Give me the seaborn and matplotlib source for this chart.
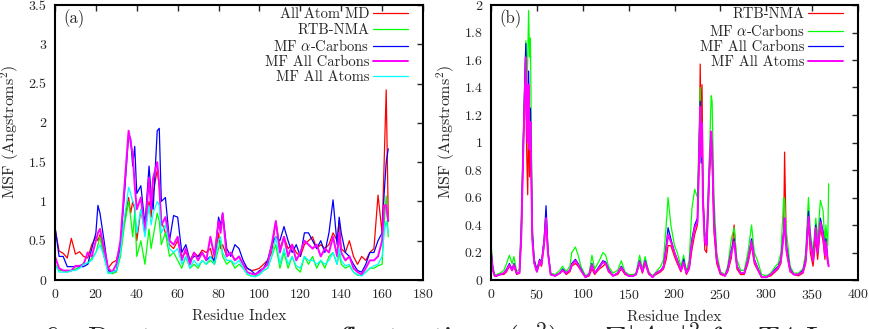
import numpy as np
import pandas as pd
import seaborn as sns
import matplotlib.pyplot as plt

# =========================
# DATA - panel (a)
# =========================
res_a = [0, 2, 4, 6, 8, 10, 12, 14, 16, 18,
         20, 21, 22, 24, 26, 28, 30, 32, 34, 36,
         37, 38, 39, 40, 42, 44, 46, 47, 48, 50,
         51, 52, 54, 56, 58, 60, 62, 64, 66, 68,
         70, 72, 74, 76, 78, 80, 81, 82, 84, 86,
         88, 90, 92, 94, 96, 98, 100, 102, 104, 106,
         108, 110, 112, 114, 116, 118, 120, 122, 124, 126,
         128, 130, 132, 134, 136, 138, 139, 140, 142, 144,
         146, 148, 150, 152, 154, 156, 158, 160, 161, 162,
         163]

md_a = [0.66, 0.37, 0.34, 0.28, 0.53, 0.33, 0.36, 0.3, 0.28, 0.45,
        0.55, 0.5, 0.58, 0.3, 0.15, 0.22, 0.25, 0.45, 0.75, 1.05,
        0.85, 1.0, 0.9, 0.5, 0.9, 0.6, 1.0, 0.8, 1.1, 1.4,
        1.2, 0.75, 0.6, 0.45, 0.4, 0.5, 0.3, 0.35, 0.25, 0.35,
        0.3, 0.38, 0.35, 0.4, 0.2, 0.6, 0.4, 0.45, 0.3, 0.35,
        0.25, 0.3, 0.2, 0.15, 0.12, 0.13, 0.15, 0.2, 0.25, 0.35,
        0.75, 0.4, 0.55, 0.4, 0.45, 0.35, 0.3, 0.45, 0.5, 0.55,
        0.4, 0.45, 0.4, 0.45, 0.6, 0.5, 0.75, 0.4, 0.35, 0.5,
        0.3, 0.2, 0.3, 0.25, 0.35, 0.4, 1.08, 0.6, 1.5, 2.42,
        0.8]

rtb_a = [0.2, 0.12, 0.12, 0.1, 0.12, 0.14, 0.16, 0.22, 0.2, 0.28,
         0.35, 0.45, 0.55, 0.3, 0.1, 0.08, 0.1, 0.3, 0.7, 1.0,
         0.8, 0.55, 0.85, 0.3, 0.5, 0.2, 0.65, 0.4, 0.55, 0.85,
         0.75, 0.45, 0.6, 0.3, 0.35, 0.25, 0.15, 0.3, 0.15, 0.2,
         0.15, 0.25, 0.2, 0.25, 0.2, 0.4, 0.5, 0.3, 0.2, 0.25,
         0.15, 0.2, 0.15, 0.07, 0.05, 0.05, 0.07, 0.12, 0.15, 0.3,
         0.45, 0.15, 0.35, 0.15, 0.3, 0.15, 0.1, 0.3, 0.2, 0.3,
         0.15, 0.25, 0.15, 0.3, 0.35, 0.2, 0.35, 0.2, 0.15, 0.18,
         0.1, 0.06, 0.06, 0.1, 0.15, 0.15, 0.18, 0.2, 0.7, 1.07,
         0.55]

ca_a = [0.68, 0.3, 0.3, 0.17, 0.17, 0.17, 0.17, 0.17, 0.2, 0.4,
        0.6, 0.95, 0.85, 0.5, 0.12, 0.1, 0.12, 0.45, 1.1, 1.85,
        1.8, 1.45, 1.7, 1.1, 1.2, 0.7, 1.45, 1.1, 0.9, 1.9,
        1.93, 1.0, 1.05, 0.5, 0.82, 0.8, 0.35, 0.45, 0.25, 0.3,
        0.3, 0.35, 0.25, 0.3, 0.25, 0.8, 0.7, 0.85, 0.4, 0.3,
        0.45, 0.4, 0.25, 0.15, 0.12, 0.07, 0.12, 0.15, 0.25, 0.45,
        0.55, 0.5, 0.68, 0.5, 0.35, 0.45, 0.3, 0.6, 0.6, 0.5,
        0.4, 0.5, 0.35, 0.6, 1.02, 0.45, 0.8, 0.6, 0.35, 0.3,
        0.2, 0.12, 0.1, 0.2, 0.35, 0.35, 0.5, 0.6, 1.1, 1.5,
        1.67]

ac_a = [0.3, 0.15, 0.12, 0.12, 0.12, 0.18, 0.18, 0.2, 0.35, 0.3,
        0.5, 0.6, 0.65, 0.4, 0.15, 0.1, 0.2, 0.5, 1.2, 1.9,
        1.75, 1.6, 1.2, 0.9, 1.05, 0.6, 1.3, 0.9, 1.3, 1.5,
        1.2, 0.7, 0.8, 0.5, 0.45, 0.55, 0.25, 0.4, 0.2, 0.35,
        0.25, 0.35, 0.25, 0.55, 0.3, 0.75, 0.6, 0.85, 0.3, 0.35,
        0.25, 0.3, 0.2, 0.1, 0.08, 0.07, 0.1, 0.15, 0.2, 0.45,
        0.75, 0.35, 0.55, 0.3, 0.45, 0.25, 0.35, 0.5, 0.45, 0.4,
        0.45, 0.3, 0.4, 0.35, 0.55, 0.3, 0.6, 0.35, 0.25, 0.3,
        0.15, 0.1, 0.07, 0.15, 0.25, 0.25, 0.3, 0.5, 0.95, 0.95,
        0.75]

aa_a = [0.2, 0.1, 0.1, 0.1, 0.12, 0.12, 0.15, 0.2, 0.22, 0.25,
        0.35, 0.4, 0.45, 0.3, 0.08, 0.1, 0.12, 0.35, 0.8, 1.18,
        1.1, 1.0, 0.95, 0.6, 0.9, 0.55, 0.95, 0.7, 0.85, 1.0,
        0.95, 0.6, 0.7, 0.4, 0.35, 0.4, 0.2, 0.3, 0.15, 0.25,
        0.18, 0.25, 0.2, 0.3, 0.2, 0.5, 0.55, 0.35, 0.25, 0.25,
        0.2, 0.25, 0.15, 0.08, 0.05, 0.04, 0.07, 0.12, 0.15, 0.3,
        0.55, 0.2, 0.4, 0.2, 0.3, 0.18, 0.15, 0.3, 0.25, 0.25,
        0.2, 0.25, 0.2, 0.25, 0.35, 0.2, 0.4, 0.25, 0.18, 0.2,
        0.1, 0.07, 0.05, 0.1, 0.15, 0.18, 0.2, 0.3, 0.6, 0.75,
        0.6]

# =========================
# DATA - panel (b)
# =========================
res_b = [0, 2, 4, 6, 10, 14, 17, 20, 23, 25,
         28, 31, 33, 35, 37, 38, 39, 40, 41, 42,
         43, 44, 45, 47, 50, 53, 55, 58, 60, 62,
         65, 70, 75, 78, 82, 86, 88, 92, 95, 98,
         103, 107, 110, 113, 118, 122, 125, 128, 133, 138,
         142, 146, 150, 155, 158, 162, 165, 168, 172, 176,
         180, 185, 188, 191, 193, 196, 200, 203, 207, 210,
         213, 216, 219, 222, 225, 227, 228, 229, 230, 231,
         233, 235, 238, 240, 241, 243, 246, 250, 255, 258,
         262, 265, 268, 272, 276, 280, 284, 287, 290, 295,
         300, 305, 310, 313, 316, 319, 320, 322, 326, 330,
         335, 340, 343, 346, 348, 351, 354, 356, 359, 362,
         364, 365, 367, 368]

rtb_b = [0.2, 0.08, 0.03, 0.03, 0.04, 0.04, 0.06, 0.1, 0.07, 0.1,
         0.04, 0.05, 0.3, 0.9, 1.4, 1.3, 0.9, 0.62, 1.2, 0.75,
         1.0, 0.7, 0.3, 0.12, 0.06, 0.12, 0.1, 0.25, 0.45, 0.2,
         0.04, 0.03, 0.05, 0.07, 0.04, 0.06, 0.1, 0.12, 0.1, 0.07,
         0.02, 0.03, 0.08, 0.04, 0.08, 0.1, 0.12, 0.06, 0.03, 0.04,
         0.08, 0.04, 0.03, 0.03, 0.04, 0.12, 0.05, 0.12, 0.04, 0.03,
         0.04, 0.06, 0.08, 0.15, 0.25, 0.25, 0.17, 0.12, 0.06, 0.12,
         0.04, 0.08, 0.22, 0.33, 0.4, 0.9, 1.57, 1.1, 1.42, 0.7,
         0.22, 0.2, 0.75, 1.0, 0.9, 0.35, 0.12, 0.04, 0.03, 0.06,
         0.16, 0.4, 0.08, 0.04, 0.04, 0.12, 0.25, 0.12, 0.08, 0.02,
         0.02, 0.03, 0.06, 0.08, 0.12, 0.35, 0.93, 0.2, 0.06, 0.04,
         0.03, 0.05, 0.12, 0.42, 0.2, 0.1, 0.3, 0.15, 0.38, 0.28,
         0.15, 0.3, 0.12, 0.13]

ca_b = [0.27, 0.1, 0.04, 0.04, 0.05, 0.07, 0.12, 0.18, 0.12, 0.17,
        0.06, 0.08, 0.45, 1.0, 1.5, 1.74, 1.4, 1.6, 1.96, 1.62,
        1.76, 1.0, 0.4, 0.15, 0.08, 0.15, 0.12, 0.3, 0.5, 0.22,
        0.05, 0.04, 0.07, 0.1, 0.06, 0.1, 0.2, 0.24, 0.18, 0.1,
        0.03, 0.05, 0.18, 0.08, 0.14, 0.2, 0.18, 0.1, 0.05, 0.07,
        0.14, 0.06, 0.04, 0.04, 0.05, 0.18, 0.08, 0.17, 0.06, 0.03,
        0.06, 0.1, 0.15, 0.4, 0.6, 0.4, 0.25, 0.2, 0.1, 0.18,
        0.06, 0.15, 0.52, 0.66, 0.6, 1.1, 1.4, 1.0, 1.1, 0.55,
        0.35, 0.3, 0.9, 1.34, 1.3, 0.6, 0.2, 0.06, 0.04, 0.1,
        0.3, 0.38, 0.15, 0.07, 0.07, 0.2, 0.4, 0.2, 0.15, 0.04,
        0.03, 0.05, 0.1, 0.12, 0.2, 0.6, 0.58, 0.35, 0.1, 0.05,
        0.05, 0.08, 0.2, 0.6, 0.35, 0.2, 0.45, 0.3, 0.58, 0.5,
        0.25, 0.4, 0.25, 0.7]

ac_b = [0.22, 0.08, 0.03, 0.03, 0.04, 0.05, 0.08, 0.12, 0.08, 0.12,
        0.05, 0.05, 0.35, 0.95, 1.5, 1.72, 1.3, 1.1, 1.52, 1.0,
        1.25, 0.8, 0.35, 0.15, 0.07, 0.15, 0.12, 0.3, 0.54, 0.22,
        0.04, 0.03, 0.05, 0.08, 0.05, 0.07, 0.12, 0.15, 0.12, 0.08,
        0.02, 0.04, 0.12, 0.05, 0.1, 0.14, 0.13, 0.08, 0.03, 0.05,
        0.1, 0.05, 0.03, 0.03, 0.04, 0.14, 0.06, 0.14, 0.05, 0.02,
        0.05, 0.07, 0.1, 0.25, 0.38, 0.3, 0.2, 0.15, 0.07, 0.15,
        0.05, 0.1, 0.3, 0.4, 0.45, 1.0, 1.3, 0.85, 1.1, 0.6,
        0.3, 0.25, 0.8, 1.05, 0.95, 0.45, 0.15, 0.05, 0.03, 0.08,
        0.22, 0.3, 0.1, 0.05, 0.05, 0.15, 0.3, 0.15, 0.1, 0.02,
        0.02, 0.04, 0.08, 0.1, 0.15, 0.35, 0.4, 0.25, 0.08, 0.04,
        0.04, 0.07, 0.15, 0.5, 0.3, 0.15, 0.4, 0.2, 0.45, 0.35,
        0.2, 0.3, 0.15, 0.1]

aa_b = [0.2, 0.07, 0.03, 0.03, 0.04, 0.05, 0.07, 0.11, 0.07, 0.11,
        0.05, 0.05, 0.32, 0.9, 1.4, 1.62, 1.2, 1.0, 1.42, 0.95,
        1.15, 0.75, 0.3, 0.13, 0.06, 0.14, 0.11, 0.28, 0.45, 0.2,
        0.04, 0.03, 0.05, 0.07, 0.05, 0.07, 0.11, 0.14, 0.11, 0.07,
        0.02, 0.04, 0.11, 0.05, 0.09, 0.13, 0.12, 0.07, 0.03, 0.05,
        0.09, 0.05, 0.03, 0.03, 0.04, 0.13, 0.06, 0.13, 0.05, 0.02,
        0.05, 0.07, 0.09, 0.22, 0.33, 0.28, 0.2, 0.14, 0.07, 0.13,
        0.05, 0.09, 0.27, 0.38, 0.42, 0.95, 1.26, 0.9, 1.14, 0.55,
        0.28, 0.25, 0.8, 1.08, 0.95, 0.42, 0.15, 0.05, 0.03, 0.07,
        0.2, 0.28, 0.1, 0.05, 0.05, 0.14, 0.28, 0.14, 0.09, 0.02,
        0.02, 0.04, 0.07, 0.09, 0.14, 0.33, 0.45, 0.22, 0.07, 0.04,
        0.04, 0.06, 0.14, 0.46, 0.28, 0.14, 0.38, 0.2, 0.42, 0.32,
        0.18, 0.28, 0.14, 0.1]

labels_a = ["All Atom MD", "RTB-NMA", r"MF $\alpha$-Carbons", "MF All Carbons", "MF All Atoms"]
labels_b = ["RTB-NMA", r"MF $\alpha$-Carbons", "MF All Carbons", "MF All Atoms"]
colors_a = ["#ff0000", "#00ff00", "#0000ff", "#ff00ff", "#00ffff"]
colors_b = ["#ff0000", "#00ff00", "#0000ff", "#ff00ff"]
widths_a = [0.9, 0.9, 0.9, 1.4, 0.9]
widths_b = [0.9, 0.9, 0.9, 1.4]

# =========================
# STYLE
# =========================
sns.set_style("white")
plt.rcParams["font.family"] = "serif"
plt.rcParams["font.serif"] = ["cmr10", "DejaVu Serif"]
plt.rcParams["mathtext.fontset"] = "cm"
plt.rcParams["axes.formatter.use_mathtext"] = True
plt.rcParams["axes.unicode_minus"] = False

fig = plt.figure(figsize=(8.7, 3.29), dpi=100)
ax_a = fig.add_axes([55 / 870, 49 / 329, 368 / 870, 275 / 329])
ax_b = fig.add_axes([491 / 870, 49 / 329, 367 / 870, 275 / 329])


def draw_panel(ax, x, series, labels, colors, widths):
    for vals, lab, col, lw in zip(series, labels, colors, widths):
        df = pd.DataFrame({"res": x, "msf": vals})
        sns.lineplot(data=df, x="res", y="msf", color=col, lw=lw, label=lab, ax=ax)


draw_panel(ax_a, res_a, [md_a, rtb_a, ca_a, ac_a, aa_a], labels_a, colors_a, widths_a)
draw_panel(ax_b, res_b, [rtb_b, ca_b, ac_b, aa_b], labels_b, colors_b, widths_b)

ax_a.set_xlim(0, 180)
ax_a.set_ylim(0, 3.5)
ax_a.set_xticks(np.arange(0, 181, 20))
ax_a.set_yticks(np.arange(0, 3.51, 0.5))
ax_a.set_yticklabels(["0", "0.5", "1", "1.5", "2", "2.5", "3", "3.5"])

ax_b.set_xlim(0, 400)
ax_b.set_ylim(0, 2)
ax_b.set_xticks(np.arange(0, 401, 50))
ax_b.set_yticks(np.arange(0, 2.01, 0.2))
ax_b.set_yticklabels(["0", "0.2", "0.4", "0.6", "0.8", "1", "1.2", "1.4", "1.6", "1.8", "2"])

for ax, tag in [(ax_a, "(a)"), (ax_b, "(b)")]:
    ax.set_xlabel("Residue Index", fontsize=11, labelpad=6)
    ax.set_ylabel(r"MSF (Angstroms$^2$)", fontsize=11.5)
    ax.yaxis.set_label_coords(-0.092, 0.538)
    ax.tick_params(direction="in", length=4, width=1, top=True, right=True,
                   labelsize=10, pad=6)
    for sp in ax.spines.values():
        sp.set_linewidth(1.5)
        sp.set_color("black")
    ax.text(0.022, 0.985, tag, transform=ax.transAxes, fontsize=12, va="top", ha="left")
    ax.legend(loc="upper right", bbox_to_anchor=(0.958, 0.99), markerfirst=False,
              frameon=False, fontsize=10.5, handlelength=2.4, handletextpad=0.2,
              labelspacing=0.1, borderpad=0, borderaxespad=0)

# caption text cut off at the bottom edge of the image
fig.text(43 / 870, 8 / 329, r"6:  Root mean square fluctuations (Å$^2$) $=\Sigma|A_{ik}|^2$ for T4 Lysozyme",
         fontsize=22, va="top", ha="left")

plt.savefig("out.png", dpi=100)
